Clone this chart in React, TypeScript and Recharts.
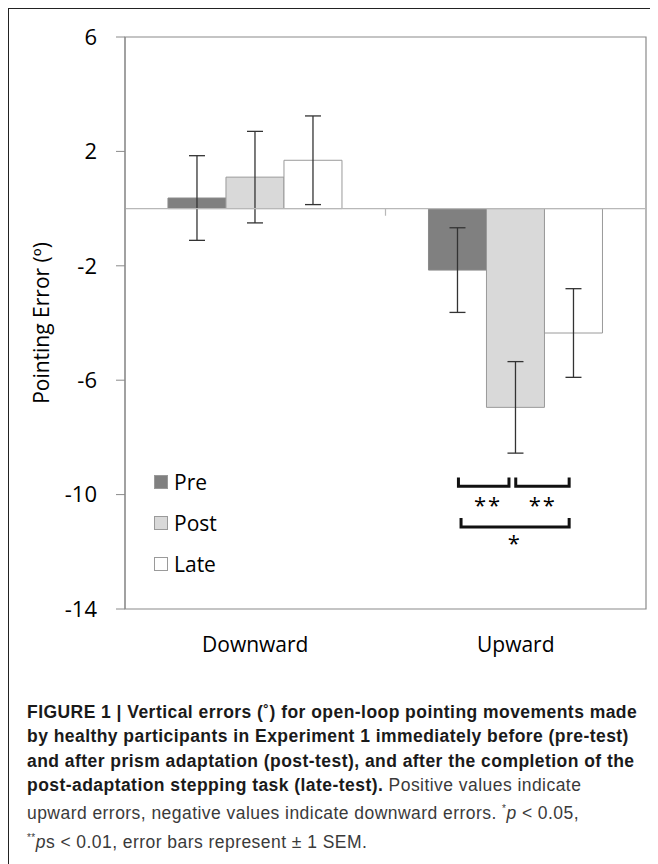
import React from "react";
import {
  ComposedChart,
  Bar,
  ErrorBar,
  Line,
  Scatter,
  XAxis,
  YAxis,
  ReferenceLine,
  ReferenceArea,
  Legend,
} from "recharts";

// direction of the pointing error
const categories = ["Downward", "Upward"];
// mean errors (deg) and SEM
const preValues = [0.37, -2.15];
const preSem = [1.48, 1.48];
const postValues = [1.1, -6.95];
const postSem = [1.6, 1.6];
const lateValues = [1.69, -4.35];
const lateSem = [1.55, 1.55];

const yTicks = [6, 2, -2, -6, -10, -14];

const seriesNames = ["Pre", "Post", "Late"];
const seriesColors = ["#808080", "#d9d9d9", "#ffffff"];

// significance brackets, x on a 0..2 span of the two categories: [from, to, bottom, top]
const brackets = [
  [1.28, 1.474, -9.71, -9.4],
  [1.5, 1.705, -9.71, -9.4],
  [1.29, 1.705, -11.13, -10.82],
];
// star labels: x, y, text
const starX = [1.39, 1.6, 1.493];
const starY = [-10.33, -10.33, -11.66];
const starText = ["**", "**", "*"];
// small tick on the zero line between the two categories
const dividerTick = [
  { x: 1, y: 0 },
  { x: 1, y: -0.25 },
];

const chartData = categories.map((c, i) => ({
  name: c,
  pre: preValues[i],
  preErr: preSem[i],
  post: postValues[i],
  postErr: postSem[i],
  late: lateValues[i],
  lateErr: lateSem[i],
}));

const bracketData = brackets.map((b) => [
  { x: b[0], y: b[3] },
  { x: b[0], y: b[2] },
  { x: b[1], y: b[2] },
  { x: b[1], y: b[3] },
]);

const starData = starX.map((x, i) => ({ x, y: starY[i], label: starText[i] }));

const FONT = "'Open Sans', sans-serif";
const W = 648;
const H = 680;
const M = { top: 28, right: 11, bottom: 30, left: 0 };
const Y_W = 116;
const X_H = 50;

function LegendBox() {
  return (
    <div style={{ fontFamily: FONT, fontSize: 21, color: "#000" }}>
      {seriesNames.map((n, i) => (
        <div key={n} style={{ display: "flex", alignItems: "center", height: 41 }}>
          <span
            style={{
              display: "inline-block",
              width: 14,
              height: 14,
              background: seriesColors[i],
              border: "1px solid #9a9a9a",
              boxSizing: "border-box",
              marginRight: 6,
            }}
          />
          <span>{n}</span>
        </div>
      ))}
    </div>
  );
}

function YLabel() {
  const cx = 32;
  const cy = 314;
  return (
    <text
      x={cx}
      y={cy}
      transform={`rotate(-90, ${cx}, ${cy})`}
      textAnchor="middle"
      dominantBaseline="central"
      fontFamily={FONT}
      fontSize={21}
      fill="#000"
    >
      Pointing Error (º)
    </text>
  );
}

function StarShape(props: any) {
  const { cx, cy, payload } = props;
  return (
    <text
      x={cx + 1}
      y={cy + 9}
      textAnchor="middle"
      fontFamily={FONT}
      fontSize={22}
      letterSpacing={2}
      fill="#000"
    >
      {payload.label}
    </text>
  );
}

export default function App() {
  return (
    <div
      style={{
        position: "relative",
        width: 648,
        height: 870,
        borderLeft: "1px solid #222",
        borderTop: "1px solid #222",
        borderRight: "1px solid #222",
        background: "#fff",
      }}
    >
      <ComposedChart
        width={W}
        height={H}
        data={chartData}
        margin={M}
        barCategoryGap="16.5%"
        barGap={0}
      >
        <XAxis
          dataKey="name"
          axisLine={false}
          tickLine={false}
          tickSize={0}
          tickMargin={28}
          height={X_H}
          tick={{ fontFamily: FONT, fontSize: 21, fill: "#000" }}
        />
        <YAxis
          width={Y_W}
          domain={[-14, 6]}
          ticks={yTicks}
          interval={0}
          axisLine={{ stroke: "#8a8a8a" }}
          tickLine={{ stroke: "#8a8a8a" }}
          tickSize={9}
          tickMargin={19}
          tick={{ fontFamily: FONT, fontSize: 22, fill: "#000" }}
          label={<YLabel />}
        />
        <ReferenceArea y1={-14} y2={6} fill="none" stroke="#8a8a8a" strokeWidth={1.2} />
        <Bar dataKey="pre" fill={seriesColors[0]} stroke="#8a8a8a" isAnimationActive={false}>
          <ErrorBar dataKey="preErr" width={8} stroke="#333" strokeWidth={1.3} />
        </Bar>
        <Bar dataKey="post" fill={seriesColors[1]} stroke="#9a9a9a" isAnimationActive={false}>
          <ErrorBar dataKey="postErr" width={8} stroke="#333" strokeWidth={1.3} />
        </Bar>
        <Bar dataKey="late" fill={seriesColors[2]} stroke="#9a9a9a" isAnimationActive={false}>
          <ErrorBar dataKey="lateErr" width={8} stroke="#333" strokeWidth={1.3} />
        </Bar>
        <ReferenceLine y={0} stroke="#b8b8b8" strokeWidth={1.2} />
        <Legend
          layout="vertical"
          align="center"
          verticalAlign="middle"
          content={<LegendBox />}
          wrapperStyle={{ left: 145, top: 452, width: 120, height: 130 }}
        />
      </ComposedChart>

      {/* annotation layer: same plot box, numeric x across both categories */}
      <div style={{ position: "absolute", left: 0, top: 0, pointerEvents: "none" }}>
        <ComposedChart
          width={W}
          height={H}
          margin={{ top: M.top, right: M.right, bottom: M.bottom + X_H, left: Y_W }}
        >
          <XAxis dataKey="x" type="number" domain={[0, 2]} allowDataOverflow hide />
          <YAxis dataKey="y" type="number" domain={[-14, 6]} allowDataOverflow hide />
          <Line
            data={dividerTick}
            dataKey="y"
            stroke="#b8b8b8"
            strokeWidth={1.2}
            dot={false}
            isAnimationActive={false}
          />
          {bracketData.map((d, i) => (
            <Line
              key={i}
              data={d}
              dataKey="y"
              type="linear"
              stroke="#111"
              strokeWidth={3}
              dot={false}
              isAnimationActive={false}
            />
          ))}
          <Scatter data={starData} dataKey="y" shape={<StarShape />} isAnimationActive={false} />
        </ComposedChart>
      </div>

      <div
        style={{
          position: "absolute",
          left: 18,
          top: 691,
          fontFamily: "'Liberation Sans Narrow', 'Liberation Sans', sans-serif",
          fontSize: 17.5,
          letterSpacing: 0.45,
          lineHeight: "24.4px",
          color: "#1a1a1a",
          whiteSpace: "nowrap",
        }}
      >
        <b>
          FIGURE 1 | Vertical errors (˚) for open-loop pointing movements made
          <br />
          by healthy participants in Experiment 1 immediately before (pre-test)
          <br />
          and after prism adaptation (post-test), and after the completion of the
          <br />
          post-adaptation stepping task (late-test).
        </b>{" "}
        <span style={{ color: "#3a3a3a" }}>
          Positive values indicate
          <br />
          upward errors, negative values indicate downward errors.{" "}
          <sup style={{ fontSize: 10 }}>*</sup>
          <i>p</i> &lt; 0.05,
          <br />
          <sup style={{ fontSize: 10 }}>**</sup>
          <i>p</i>s &lt; 0.01, error bars represent ± 1 SEM.
        </span>
      </div>
    </div>
  );
}
